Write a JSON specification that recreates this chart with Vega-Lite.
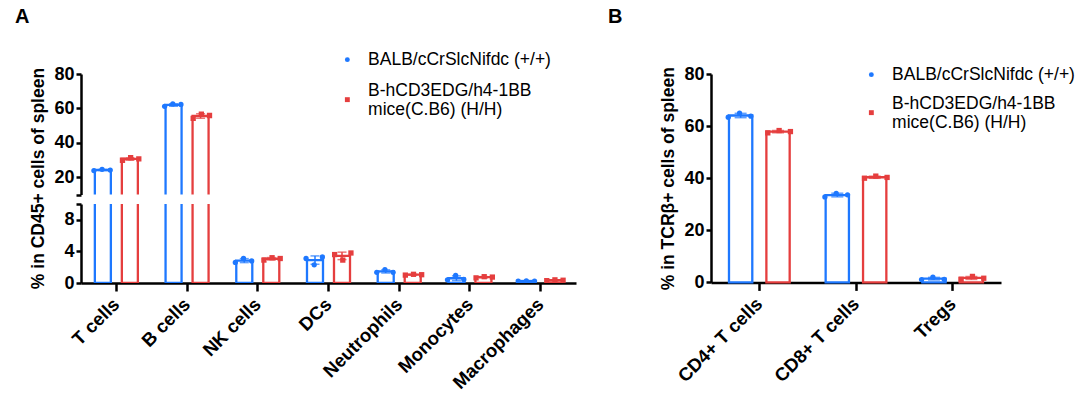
{
  "$schema": "https://vega.github.io/schema/vega-lite/v6.json",
  "padding": {"left": 14, "top": 6, "right": 5, "bottom": 0},
  "config": {
    "font": "Liberation Sans",
    "view": {"stroke": null},
    "axis": {"labelFont": "Liberation Sans", "labelFontSize": 18, "labelFontWeight": "bold", "labelColor": "black", "labelOverlap": false, "titleFont": "Liberation Sans", "titleFontSize": 17.5, "titleFontWeight": "bold", "titleColor": "black", "domainColor": "black", "domainWidth": 2.5, "tickColor": "black", "tickWidth": 2.5, "grid": false},
    "legend": {"labelFont": "Liberation Sans", "labelFontSize": 17.5, "labelFontWeight": "normal", "labelColor": "black", "labelLimit": 0, "symbolSize": 24, "labelOffset": 12, "rowPadding": 13, "padding": 0},
    "title": {"font": "Liberation Sans", "fontSize": 20, "fontWeight": "bold", "anchor": "start", "color": "black", "frame": "bounds"}
  },
  "datasets": {
    "a": [
      {"cell": "T cells", "group": "BALB/cCrSlcNifdc (+/+)", "mouse": "WT-1", "value": 23.9},
      {"cell": "T cells", "group": "BALB/cCrSlcNifdc (+/+)", "mouse": "WT-2", "value": 24.6},
      {"cell": "T cells", "group": "BALB/cCrSlcNifdc (+/+)", "mouse": "WT-3", "value": 24.2},
      {"cell": "T cells", "group": "B-hCD3EDG/h4-1BB mice(C.B6) (H/H)", "mouse": "HH-1", "value": 29.9},
      {"cell": "T cells", "group": "B-hCD3EDG/h4-1BB mice(C.B6) (H/H)", "mouse": "HH-2", "value": 31.4},
      {"cell": "T cells", "group": "B-hCD3EDG/h4-1BB mice(C.B6) (H/H)", "mouse": "HH-3", "value": 30.7},
      {"cell": "B cells", "group": "BALB/cCrSlcNifdc (+/+)", "mouse": "WT-1", "value": 61.2},
      {"cell": "B cells", "group": "BALB/cCrSlcNifdc (+/+)", "mouse": "WT-2", "value": 62.6},
      {"cell": "B cells", "group": "BALB/cCrSlcNifdc (+/+)", "mouse": "WT-3", "value": 62.3},
      {"cell": "B cells", "group": "B-hCD3EDG/h4-1BB mice(C.B6) (H/H)", "mouse": "HH-1", "value": 54.2},
      {"cell": "B cells", "group": "B-hCD3EDG/h4-1BB mice(C.B6) (H/H)", "mouse": "HH-2", "value": 56.7},
      {"cell": "B cells", "group": "B-hCD3EDG/h4-1BB mice(C.B6) (H/H)", "mouse": "HH-3", "value": 55.9},
      {"cell": "NK cells", "group": "BALB/cCrSlcNifdc (+/+)", "mouse": "WT-1", "value": 2.6},
      {"cell": "NK cells", "group": "BALB/cCrSlcNifdc (+/+)", "mouse": "WT-2", "value": 3.1},
      {"cell": "NK cells", "group": "BALB/cCrSlcNifdc (+/+)", "mouse": "WT-3", "value": 2.8},
      {"cell": "NK cells", "group": "B-hCD3EDG/h4-1BB mice(C.B6) (H/H)", "mouse": "HH-1", "value": 2.9},
      {"cell": "NK cells", "group": "B-hCD3EDG/h4-1BB mice(C.B6) (H/H)", "mouse": "HH-2", "value": 3.2},
      {"cell": "NK cells", "group": "B-hCD3EDG/h4-1BB mice(C.B6) (H/H)", "mouse": "HH-3", "value": 3.1},
      {"cell": "DCs", "group": "BALB/cCrSlcNifdc (+/+)", "mouse": "WT-1", "value": 3.1},
      {"cell": "DCs", "group": "BALB/cCrSlcNifdc (+/+)", "mouse": "WT-2", "value": 2.3},
      {"cell": "DCs", "group": "BALB/cCrSlcNifdc (+/+)", "mouse": "WT-3", "value": 3.3},
      {"cell": "DCs", "group": "B-hCD3EDG/h4-1BB mice(C.B6) (H/H)", "mouse": "HH-1", "value": 3.6},
      {"cell": "DCs", "group": "B-hCD3EDG/h4-1BB mice(C.B6) (H/H)", "mouse": "HH-2", "value": 2.9},
      {"cell": "DCs", "group": "B-hCD3EDG/h4-1BB mice(C.B6) (H/H)", "mouse": "HH-3", "value": 3.8},
      {"cell": "Neutrophils", "group": "BALB/cCrSlcNifdc (+/+)", "mouse": "WT-1", "value": 1.35},
      {"cell": "Neutrophils", "group": "BALB/cCrSlcNifdc (+/+)", "mouse": "WT-2", "value": 1.7},
      {"cell": "Neutrophils", "group": "BALB/cCrSlcNifdc (+/+)", "mouse": "WT-3", "value": 1.35},
      {"cell": "Neutrophils", "group": "B-hCD3EDG/h4-1BB mice(C.B6) (H/H)", "mouse": "HH-1", "value": 1.0},
      {"cell": "Neutrophils", "group": "B-hCD3EDG/h4-1BB mice(C.B6) (H/H)", "mouse": "HH-2", "value": 1.1},
      {"cell": "Neutrophils", "group": "B-hCD3EDG/h4-1BB mice(C.B6) (H/H)", "mouse": "HH-3", "value": 1.05},
      {"cell": "Monocytes", "group": "BALB/cCrSlcNifdc (+/+)", "mouse": "WT-1", "value": 0.4},
      {"cell": "Monocytes", "group": "BALB/cCrSlcNifdc (+/+)", "mouse": "WT-2", "value": 0.95},
      {"cell": "Monocytes", "group": "BALB/cCrSlcNifdc (+/+)", "mouse": "WT-3", "value": 0.45},
      {"cell": "Monocytes", "group": "B-hCD3EDG/h4-1BB mice(C.B6) (H/H)", "mouse": "HH-1", "value": 0.65},
      {"cell": "Monocytes", "group": "B-hCD3EDG/h4-1BB mice(C.B6) (H/H)", "mouse": "HH-2", "value": 0.8},
      {"cell": "Monocytes", "group": "B-hCD3EDG/h4-1BB mice(C.B6) (H/H)", "mouse": "HH-3", "value": 0.75},
      {"cell": "Macrophages", "group": "BALB/cCrSlcNifdc (+/+)", "mouse": "WT-1", "value": 0.25},
      {"cell": "Macrophages", "group": "BALB/cCrSlcNifdc (+/+)", "mouse": "WT-2", "value": 0.27},
      {"cell": "Macrophages", "group": "BALB/cCrSlcNifdc (+/+)", "mouse": "WT-3", "value": 0.24},
      {"cell": "Macrophages", "group": "B-hCD3EDG/h4-1BB mice(C.B6) (H/H)", "mouse": "HH-1", "value": 0.3},
      {"cell": "Macrophages", "group": "B-hCD3EDG/h4-1BB mice(C.B6) (H/H)", "mouse": "HH-2", "value": 0.4},
      {"cell": "Macrophages", "group": "B-hCD3EDG/h4-1BB mice(C.B6) (H/H)", "mouse": "HH-3", "value": 0.35}
    ],
    "b": [
      {"cell": "CD4+ T cells", "group": "BALB/cCrSlcNifdc (+/+)", "mouse": "WT-1", "value": 63.4},
      {"cell": "CD4+ T cells", "group": "BALB/cCrSlcNifdc (+/+)", "mouse": "WT-2", "value": 65.0},
      {"cell": "CD4+ T cells", "group": "BALB/cCrSlcNifdc (+/+)", "mouse": "WT-3", "value": 63.8},
      {"cell": "CD4+ T cells", "group": "B-hCD3EDG/h4-1BB mice(C.B6) (H/H)", "mouse": "HH-1", "value": 57.4},
      {"cell": "CD4+ T cells", "group": "B-hCD3EDG/h4-1BB mice(C.B6) (H/H)", "mouse": "HH-2", "value": 58.3},
      {"cell": "CD4+ T cells", "group": "B-hCD3EDG/h4-1BB mice(C.B6) (H/H)", "mouse": "HH-3", "value": 57.9},
      {"cell": "CD8+ T cells", "group": "BALB/cCrSlcNifdc (+/+)", "mouse": "WT-1", "value": 32.8},
      {"cell": "CD8+ T cells", "group": "BALB/cCrSlcNifdc (+/+)", "mouse": "WT-2", "value": 34.2},
      {"cell": "CD8+ T cells", "group": "BALB/cCrSlcNifdc (+/+)", "mouse": "WT-3", "value": 33.6},
      {"cell": "CD8+ T cells", "group": "B-hCD3EDG/h4-1BB mice(C.B6) (H/H)", "mouse": "HH-1", "value": 40.0},
      {"cell": "CD8+ T cells", "group": "B-hCD3EDG/h4-1BB mice(C.B6) (H/H)", "mouse": "HH-2", "value": 40.8},
      {"cell": "CD8+ T cells", "group": "B-hCD3EDG/h4-1BB mice(C.B6) (H/H)", "mouse": "HH-3", "value": 40.3},
      {"cell": "Tregs", "group": "BALB/cCrSlcNifdc (+/+)", "mouse": "WT-1", "value": 1.1},
      {"cell": "Tregs", "group": "BALB/cCrSlcNifdc (+/+)", "mouse": "WT-2", "value": 2.0},
      {"cell": "Tregs", "group": "BALB/cCrSlcNifdc (+/+)", "mouse": "WT-3", "value": 1.2},
      {"cell": "Tregs", "group": "B-hCD3EDG/h4-1BB mice(C.B6) (H/H)", "mouse": "HH-1", "value": 1.2},
      {"cell": "Tregs", "group": "B-hCD3EDG/h4-1BB mice(C.B6) (H/H)", "mouse": "HH-2", "value": 2.3},
      {"cell": "Tregs", "group": "B-hCD3EDG/h4-1BB mice(C.B6) (H/H)", "mouse": "HH-3", "value": 1.6}
    ]
  },
  "hconcat": [
    {
      "title": {"text": "A", "dx": -15, "offset": 24.2},
      "spacing": 9,
      "bounds": "flush",
      "resolve": {"legend": {"color": "independent", "shape": "independent"}},
      "vconcat": [
        {
          "width": 495,
          "height": 120.5,
          "data": {"name": "a"},
          "resolve": {"scale": {"xOffset": "independent"}},
          "layer": [
            {
              "mark": {"type": "bar", "fill": "white", "strokeWidth": 2.3, "clip": true},
              "encoding": {
                "x": {"field": "cell", "type": "nominal", "sort": ["T cells", "B cells", "NK cells", "DCs", "Neutrophils", "Monocytes", "Macrophages"], "scale": {"paddingInner": 0, "paddingOuter": 0}, "axis": null},
                "xOffset": {"field": "group", "type": "nominal", "scale": {"domain": ["BALB/cCrSlcNifdc (+/+)", "B-hCD3EDG/h4-1BB mice(C.B6) (H/H)"], "paddingInner": 0.407, "paddingOuter": 0.513}},
                "y": {"aggregate": "mean", "field": "value", "type": "quantitative", "title": "% in CD45+ cells of spleen", "scale": {"domain": [10, 80], "nice": false, "zero": false},
                  "axis": {"values": [10, 20, 40, 60, 80], "labelExpr": "datum.value == 10 ? '' : datum.label", "labelOverlap": false, "tickSize": 5, "labelPadding": 2, "titleY": 104, "titlePadding": 6}},
                "y2": {"datum": 0},
                "stroke": {"field": "group", "type": "nominal", "scale": {"domain": ["BALB/cCrSlcNifdc (+/+)", "B-hCD3EDG/h4-1BB mice(C.B6) (H/H)"], "range": ["#1E78FF", "#E53E3E"]}, "legend": null}
              }
            },
            {
              "transform": [{"filter": "datum.group == 'BALB/cCrSlcNifdc (+/+)'"}],
              "mark": {"type": "errorbar", "extent": "stdev", "color": "#1E78FF", "ticks": {"size": 9, "thickness": 1.5}, "thickness": 1.5, "clip": true},
              "encoding": {
                "x": {"field": "cell", "type": "nominal", "sort": ["T cells", "B cells", "NK cells", "DCs", "Neutrophils", "Monocytes", "Macrophages"]},
                "xOffset": {"field": "group", "type": "nominal", "scale": {"domain": ["BALB/cCrSlcNifdc (+/+)", "B-hCD3EDG/h4-1BB mice(C.B6) (H/H)"], "paddingInner": 0.407, "paddingOuter": 0.513}},
                "y": {"field": "value", "type": "quantitative", "title": "% in CD45+ cells of spleen",
                  "axis": {"values": [10, 20, 40, 60, 80], "labelExpr": "datum.value == 10 ? '' : datum.label", "labelOverlap": false, "tickSize": 5, "labelPadding": 2, "titleY": 104, "titlePadding": 6}}
              }
            },
            {
              "transform": [{"filter": "datum.group != 'BALB/cCrSlcNifdc (+/+)'"}],
              "mark": {"type": "errorbar", "extent": "stdev", "color": "#E53E3E", "ticks": {"size": 9, "thickness": 1.5}, "thickness": 1.5, "clip": true},
              "encoding": {
                "x": {"field": "cell", "type": "nominal", "sort": ["T cells", "B cells", "NK cells", "DCs", "Neutrophils", "Monocytes", "Macrophages"]},
                "xOffset": {"field": "group", "type": "nominal", "scale": {"domain": ["BALB/cCrSlcNifdc (+/+)", "B-hCD3EDG/h4-1BB mice(C.B6) (H/H)"], "paddingInner": 0.407, "paddingOuter": 0.513}},
                "y": {"field": "value", "type": "quantitative", "title": "% in CD45+ cells of spleen",
                  "axis": {"values": [10, 20, 40, 60, 80], "labelExpr": "datum.value == 10 ? '' : datum.label", "labelOverlap": false, "tickSize": 5, "labelPadding": 2, "titleY": 104, "titlePadding": 6}}
              }
            },
            {
              "mark": {"type": "point", "filled": true, "size": 28, "opacity": 1, "clip": true},
              "encoding": {
                "x": {"field": "cell", "type": "nominal", "sort": ["T cells", "B cells", "NK cells", "DCs", "Neutrophils", "Monocytes", "Macrophages"]},
                "xOffset": {"field": "mouse", "type": "nominal", "scale": {"domain": ["_l1", "_l2", "_l3", "WT-1", "_a", "WT-2", "_b", "WT-3", "_c", "_d", "HH-1", "_e", "HH-2", "_f", "HH-3", "_r1", "_r2", "_r3"], "paddingInner": 0, "paddingOuter": 0.165}},
                "y": {"field": "value", "type": "quantitative", "title": "% in CD45+ cells of spleen",
                  "axis": {"values": [10, 20, 40, 60, 80], "labelExpr": "datum.value == 10 ? '' : datum.label", "labelOverlap": false, "tickSize": 5, "labelPadding": 2, "titleY": 104, "titlePadding": 6}},
                "color": {"field": "group", "type": "nominal", "scale": {"domain": ["BALB/cCrSlcNifdc (+/+)", "B-hCD3EDG/h4-1BB mice(C.B6) (H/H)"], "range": ["#1E78FF", "#E53E3E"]},
                  "legend": {"title": null, "orient": "none", "legendX": 257.6, "legendY": -23.1, "rowPadding": 13, "labelExpr": "datum.label == 'B-hCD3EDG/h4-1BB mice(C.B6) (H/H)' ? ['B-hCD3EDG/h4-1BB', 'mice(C.B6) (H/H)'] : datum.label",
                    "encoding": {"labels": {"lineHeight": {"value": 19}, "dy": {"condition": {"test": "datum.value == 'B-hCD3EDG/h4-1BB mice(C.B6) (H/H)'", "value": -8.5}, "value": 0}}}}},
                "shape": {"field": "group", "type": "nominal", "scale": {"domain": ["BALB/cCrSlcNifdc (+/+)", "B-hCD3EDG/h4-1BB mice(C.B6) (H/H)"], "range": ["circle", "square"]},
                  "legend": {"title": null, "orient": "none", "legendX": 257.6, "legendY": -23.1, "rowPadding": 13, "labelExpr": "datum.label == 'B-hCD3EDG/h4-1BB mice(C.B6) (H/H)' ? ['B-hCD3EDG/h4-1BB', 'mice(C.B6) (H/H)'] : datum.label",
                    "encoding": {"labels": {"lineHeight": {"value": 19}, "dy": {"condition": {"test": "datum.value == 'B-hCD3EDG/h4-1BB mice(C.B6) (H/H)'", "value": -8.5}, "value": 0}}}}}
              }
            }
          ]
        },
        {
          "width": 495,
          "height": 79,
          "data": {"name": "a"},
          "resolve": {"scale": {"xOffset": "independent"}},
          "layer": [
            {
              "mark": {"type": "bar", "fill": "white", "strokeWidth": 2.3, "clip": true},
              "encoding": {
                "x": {"field": "cell", "type": "nominal", "sort": ["T cells", "B cells", "NK cells", "DCs", "Neutrophils", "Monocytes", "Macrophages"], "scale": {"paddingInner": 0, "paddingOuter": 0},
                  "axis": {"title": null, "labelAngle": -45, "labelAlign": "right", "labelBaseline": "middle", "labelFontSize": 18.5, "tickSize": 8, "labelPadding": 10}},
                "xOffset": {"field": "group", "type": "nominal", "scale": {"domain": ["BALB/cCrSlcNifdc (+/+)", "B-hCD3EDG/h4-1BB mice(C.B6) (H/H)"], "paddingInner": 0.407, "paddingOuter": 0.513}},
                "y": {"aggregate": "mean", "field": "value", "type": "quantitative", "title": null, "scale": {"domain": [0, 10], "nice": false},
                  "axis": {"values": [0, 4, 8, 10], "labelExpr": "datum.value == 10 ? '' : datum.label", "labelOverlap": false, "tickSize": 5, "labelPadding": 2}},
                "y2": {"datum": 0},
                "stroke": {"field": "group", "type": "nominal", "scale": {"domain": ["BALB/cCrSlcNifdc (+/+)", "B-hCD3EDG/h4-1BB mice(C.B6) (H/H)"], "range": ["#1E78FF", "#E53E3E"]}, "legend": null}
              }
            },
            {
              "transform": [{"filter": "datum.group == 'BALB/cCrSlcNifdc (+/+)'"}],
              "mark": {"type": "errorbar", "extent": "stdev", "color": "#1E78FF", "ticks": {"size": 9, "thickness": 1.5}, "thickness": 1.5, "clip": true},
              "encoding": {
                "x": {"field": "cell", "type": "nominal", "sort": ["T cells", "B cells", "NK cells", "DCs", "Neutrophils", "Monocytes", "Macrophages"]},
                "xOffset": {"field": "group", "type": "nominal", "scale": {"domain": ["BALB/cCrSlcNifdc (+/+)", "B-hCD3EDG/h4-1BB mice(C.B6) (H/H)"], "paddingInner": 0.407, "paddingOuter": 0.513}},
                "y": {"field": "value", "type": "quantitative", "title": null,
                  "axis": {"values": [0, 4, 8, 10], "labelExpr": "datum.value == 10 ? '' : datum.label", "labelOverlap": false, "tickSize": 5, "labelPadding": 2}}
              }
            },
            {
              "transform": [{"filter": "datum.group != 'BALB/cCrSlcNifdc (+/+)'"}],
              "mark": {"type": "errorbar", "extent": "stdev", "color": "#E53E3E", "ticks": {"size": 9, "thickness": 1.5}, "thickness": 1.5, "clip": true},
              "encoding": {
                "x": {"field": "cell", "type": "nominal", "sort": ["T cells", "B cells", "NK cells", "DCs", "Neutrophils", "Monocytes", "Macrophages"]},
                "xOffset": {"field": "group", "type": "nominal", "scale": {"domain": ["BALB/cCrSlcNifdc (+/+)", "B-hCD3EDG/h4-1BB mice(C.B6) (H/H)"], "paddingInner": 0.407, "paddingOuter": 0.513}},
                "y": {"field": "value", "type": "quantitative", "title": null,
                  "axis": {"values": [0, 4, 8, 10], "labelExpr": "datum.value == 10 ? '' : datum.label", "labelOverlap": false, "tickSize": 5, "labelPadding": 2}}
              }
            },
            {
              "mark": {"type": "point", "filled": true, "size": 28, "opacity": 1, "clip": true},
              "encoding": {
                "x": {"field": "cell", "type": "nominal", "sort": ["T cells", "B cells", "NK cells", "DCs", "Neutrophils", "Monocytes", "Macrophages"]},
                "xOffset": {"field": "mouse", "type": "nominal", "scale": {"domain": ["_l1", "_l2", "_l3", "WT-1", "_a", "WT-2", "_b", "WT-3", "_c", "_d", "HH-1", "_e", "HH-2", "_f", "HH-3", "_r1", "_r2", "_r3"], "paddingInner": 0, "paddingOuter": 0.165}},
                "y": {"field": "value", "type": "quantitative", "title": null,
                  "axis": {"values": [0, 4, 8, 10], "labelExpr": "datum.value == 10 ? '' : datum.label", "labelOverlap": false, "tickSize": 5, "labelPadding": 2}},
                "color": {"field": "group", "type": "nominal", "scale": {"domain": ["BALB/cCrSlcNifdc (+/+)", "B-hCD3EDG/h4-1BB mice(C.B6) (H/H)"], "range": ["#1E78FF", "#E53E3E"]}, "legend": null},
                "shape": {"field": "group", "type": "nominal", "scale": {"domain": ["BALB/cCrSlcNifdc (+/+)", "B-hCD3EDG/h4-1BB mice(C.B6) (H/H)"], "range": ["circle", "square"]}, "legend": null}
              }
            }
          ]
        }
      ]
    },
    {
      "title": {"text": "B", "dx": -52, "offset": 37.8},
      "width": 290,
      "height": 208.4,
      "data": {"name": "b"},
      "resolve": {"scale": {"xOffset": "independent"}},
      "layer": [
        {
          "mark": {"type": "bar", "fill": "white", "strokeWidth": 2.3},
          "encoding": {
            "x": {"field": "cell", "type": "nominal", "sort": ["CD4+ T cells", "CD8+ T cells", "Tregs"], "scale": {"paddingInner": 0, "paddingOuter": 0},
              "axis": {"title": null, "labelAngle": -45, "labelAlign": "right", "labelBaseline": "middle", "labelFontSize": 18.5, "tickSize": 8, "labelPadding": 10}},
            "xOffset": {"field": "group", "type": "nominal", "scale": {"domain": ["BALB/cCrSlcNifdc (+/+)", "B-hCD3EDG/h4-1BB mice(C.B6) (H/H)"], "paddingInner": 0.377, "paddingOuter": 0.481}},
            "y": {"aggregate": "mean", "field": "value", "type": "quantitative", "title": "% in TCRβ+ cells of spleen", "scale": {"domain": [0, 80], "nice": false},
              "axis": {"values": [0, 20, 40, 60, 80], "labelOverlap": false, "tickSize": 5, "labelPadding": 2, "titlePadding": 6}},
            "y2": {"datum": 0},
            "stroke": {"field": "group", "type": "nominal", "scale": {"domain": ["BALB/cCrSlcNifdc (+/+)", "B-hCD3EDG/h4-1BB mice(C.B6) (H/H)"], "range": ["#1E78FF", "#E53E3E"]}, "legend": null}
          }
        },
        {
          "transform": [{"filter": "datum.group == 'BALB/cCrSlcNifdc (+/+)'"}],
          "mark": {"type": "errorbar", "extent": "stdev", "color": "#1E78FF", "ticks": {"size": 12, "thickness": 1.5}, "thickness": 1.5},
          "encoding": {
            "x": {"field": "cell", "type": "nominal", "sort": ["CD4+ T cells", "CD8+ T cells", "Tregs"]},
            "xOffset": {"field": "group", "type": "nominal", "scale": {"domain": ["BALB/cCrSlcNifdc (+/+)", "B-hCD3EDG/h4-1BB mice(C.B6) (H/H)"], "paddingInner": 0.377, "paddingOuter": 0.481}},
            "y": {"field": "value", "type": "quantitative", "title": "% in TCRβ+ cells of spleen",
              "axis": {"values": [0, 20, 40, 60, 80], "labelOverlap": false, "tickSize": 5, "labelPadding": 2, "titlePadding": 6}}
          }
        },
        {
          "transform": [{"filter": "datum.group != 'BALB/cCrSlcNifdc (+/+)'"}],
          "mark": {"type": "errorbar", "extent": "stdev", "color": "#E53E3E", "ticks": {"size": 12, "thickness": 1.5}, "thickness": 1.5},
          "encoding": {
            "x": {"field": "cell", "type": "nominal", "sort": ["CD4+ T cells", "CD8+ T cells", "Tregs"]},
            "xOffset": {"field": "group", "type": "nominal", "scale": {"domain": ["BALB/cCrSlcNifdc (+/+)", "B-hCD3EDG/h4-1BB mice(C.B6) (H/H)"], "paddingInner": 0.377, "paddingOuter": 0.481}},
            "y": {"field": "value", "type": "quantitative", "title": "% in TCRβ+ cells of spleen",
              "axis": {"values": [0, 20, 40, 60, 80], "labelOverlap": false, "tickSize": 5, "labelPadding": 2, "titlePadding": 6}}
          }
        },
        {
          "mark": {"type": "point", "filled": true, "size": 28, "opacity": 1},
          "encoding": {
            "x": {"field": "cell", "type": "nominal", "sort": ["CD4+ T cells", "CD8+ T cells", "Tregs"]},
            "xOffset": {"field": "mouse", "type": "nominal", "scale": {"domain": ["_l1", "_l2", "_l3", "WT-1", "_a", "WT-2", "_b", "WT-3", "_c", "_d", "HH-1", "_e", "HH-2", "_f", "HH-3", "_r1", "_r2", "_r3"], "paddingInner": 0, "paddingOuter": 0.05}},
            "y": {"field": "value", "type": "quantitative", "title": "% in TCRβ+ cells of spleen",
              "axis": {"values": [0, 20, 40, 60, 80], "labelOverlap": false, "tickSize": 5, "labelPadding": 2, "titlePadding": 6}},
            "color": {"field": "group", "type": "nominal", "scale": {"domain": ["BALB/cCrSlcNifdc (+/+)", "B-hCD3EDG/h4-1BB mice(C.B6) (H/H)"], "range": ["#1E78FF", "#E53E3E"]},
              "legend": {"title": null, "orient": "none", "legendX": 151.6, "legendY": -8.1, "rowPadding": 11, "labelExpr": "datum.label == 'B-hCD3EDG/h4-1BB mice(C.B6) (H/H)' ? ['B-hCD3EDG/h4-1BB', 'mice(C.B6) (H/H)'] : datum.label",
                "encoding": {"labels": {"lineHeight": {"value": 19}, "dy": {"condition": {"test": "datum.value == 'B-hCD3EDG/h4-1BB mice(C.B6) (H/H)'", "value": -8.5}, "value": 0}}}}},
            "shape": {"field": "group", "type": "nominal", "scale": {"domain": ["BALB/cCrSlcNifdc (+/+)", "B-hCD3EDG/h4-1BB mice(C.B6) (H/H)"], "range": ["circle", "square"]},
              "legend": {"title": null, "orient": "none", "legendX": 151.6, "legendY": -8.1, "rowPadding": 11, "labelExpr": "datum.label == 'B-hCD3EDG/h4-1BB mice(C.B6) (H/H)' ? ['B-hCD3EDG/h4-1BB', 'mice(C.B6) (H/H)'] : datum.label",
                "encoding": {"labels": {"lineHeight": {"value": 19}, "dy": {"condition": {"test": "datum.value == 'B-hCD3EDG/h4-1BB mice(C.B6) (H/H)'", "value": -8.5}, "value": 0}}}}}
          }
        }
      ]
    }
  ],
  "spacing": 31,
  "resolve": {"legend": {"color": "independent", "shape": "independent"}}
}
